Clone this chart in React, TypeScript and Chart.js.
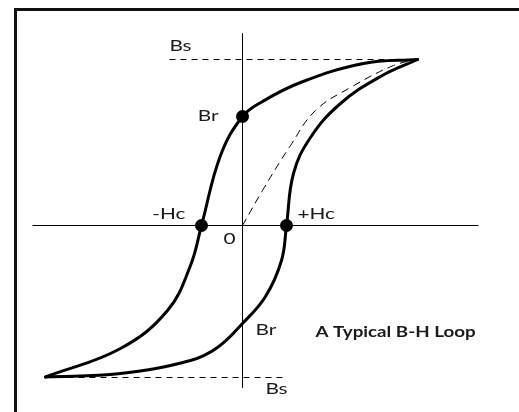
import React, { useEffect, useRef } from "react";
import { Chart, registerables } from "chart.js";

Chart.register(...registerables);

// Descending branch of the loop (H, B), from +Bs tip to -Bs tip
const descH = [17.5, 12.1, 5.8, 2.0, 0, -2.2, -4.1, -5.2, -7.5, -12.2, -19.7];
const descB = [16.6, 16.2, 14.3, 12.4, 10.9, 7.0, 0, -4.0, -8.5, -12.3, -15.15];

// Ascending branch of the loop, from -Bs tip to +Bs tip
const ascH = [-19.7, -12.2, -5.2, -2.5, 0, 2.3, 3.9, 4.4, 5.1, 6.8, 9.8, 13.8, 17.5];
const ascB = [-15.15, -14.8, -13.5, -12.2, -9.8, -7.1, -3.5, 0, 5.2, 8.8, 12.2, 14.9, 16.6];

// Initial magnetisation curve (dashed)
const initH = [0, 2.0, 4.8, 7.3, 10.8, 15.1, 17.5];
const initB = [0, 3.5, 8.0, 11.5, 13.8, 16.0, 16.6];

// Marked points: Br, -Hc, +Hc
const dotH = [0, -4.1, 4.4];
const dotB = [10.9, 0, 0];

// Axes and saturation levels
const axisHRange = [-21, 23.6];
const axisBRange = [19.2, -16.2];
const bsTopH = [-7.3, 17.5];
const bsTopB = 16.6;
const bsBotH = [-19.7, 4.5];
const bsBotB = -15.2;

// Annotations
const labelText = ["Bs", "Br", "-Hc", "+Hc", "0", "Br", "Bs"];
const labelH = [-7.3, -2.4, -5.7, 5.5, -1.3, 1.3, 2.3];
const labelB = [18.0, 11.0, 1.15, 1.15, -1.35, -10.4, -16.3];
const labelAlign = ["left", "right", "right", "left", "center", "left", "left"];
const titleText = "A Typical B-H Loop";
const titleH = 7.3;
const titleB = -10.7;

const pts = (xs: number[], ys: number[]) => xs.map((x, i) => ({ x, y: ys[i] }));

export default function App() {
  const ref = useRef<HTMLCanvasElement | null>(null);

  useEffect(() => {
    if (!ref.current) return;
    const labelsPlugin = {
      id: "bhLabels",
      afterDatasetsDraw(chart: any) {
        const { ctx, scales } = chart;
        const xs = scales.x;
        const ys = scales.y;
        ctx.save();
        ctx.fillStyle = "#1a1a1a";
        ctx.textBaseline = "middle";
        labelText.forEach((t, i) => {
          ctx.save();
          ctx.translate(xs.getPixelForValue(labelH[i]), ys.getPixelForValue(labelB[i]));
          ctx.scale(1.3, 1);
          ctx.font = "16px Lato";
          ctx.textAlign = labelAlign[i];
          ctx.fillText(t, 0, 0);
          ctx.restore();
        });
        ctx.save();
        ctx.translate(xs.getPixelForValue(titleH), ys.getPixelForValue(titleB));
        ctx.scale(1.25, 1);
        ctx.font = "bold 15px Lato";
        ctx.textAlign = "left";
        ctx.fillText(titleText, 0, 0);
        ctx.restore();
        ctx.restore();
      },
    };

    const lineDs = (data: any[], width: number, dash: number[] = [], order = 5) => ({
      data,
      showLine: true,
      borderColor: "#000",
      borderWidth: width,
      borderDash: dash,
      pointRadius: 0,
      tension: 0,
      fill: false,
      order,
    });

    const curveDs = (data: any[], width: number, dash: number[] = []) => ({
      ...lineDs(data, width, dash, 2),
      tension: 0.4,
      borderCapStyle: "round",
      borderJoinStyle: "round",
    });

    const chart = new Chart(ref.current, {
      type: "scatter",
      data: {
        datasets: [
          {
            data: pts(dotH, dotB),
            showLine: false,
            pointRadius: 6.5,
            pointBackgroundColor: "#000",
            pointBorderWidth: 0,
            order: 0,
          } as any,
          curveDs(pts(descH, descB), 3),
          curveDs(pts(ascH, ascB), 3),
          curveDs(pts(initH, initB), 1, [7, 6]),
          lineDs(pts(axisHRange, [0, 0]), 1),
          lineDs(pts([0, 0], axisBRange), 1),
          lineDs(pts(bsTopH, [bsTopB, bsTopB]), 1, [6, 5]),
          lineDs(pts(bsBotH, [bsBotB, bsBotB]), 1, [6, 5]),
        ],
      },
      options: {
        animation: false,
        responsive: false,
        devicePixelRatio: 1,
        layout: { padding: 0, autoPadding: false },
        plugins: { legend: { display: false }, tooltip: { enabled: false }, title: { display: false } },
        scales: {
          x: { type: "linear", min: -24.25, max: 27.65, display: false },
          y: { type: "linear", min: -18.65, max: 22.55, display: false },
        },
        events: [],
      } as any,
      plugins: [labelsPlugin],
    });
    return () => chart.destroy();
  }, []);

  return (
    <div style={{ position: "fixed", left: 0, top: 0, width: 519, height: 412, overflow: "hidden", background: "#fff" }}>
      <div
        style={{
          position: "absolute",
          left: 14,
          top: 8,
          width: 600,
          height: 500,
          border: "3px solid #111",
          boxSizing: "border-box",
        }}
      />
      <canvas ref={ref} width={519} height={412} style={{ position: "absolute", left: 0, top: 0 }} />
    </div>
  );
}
